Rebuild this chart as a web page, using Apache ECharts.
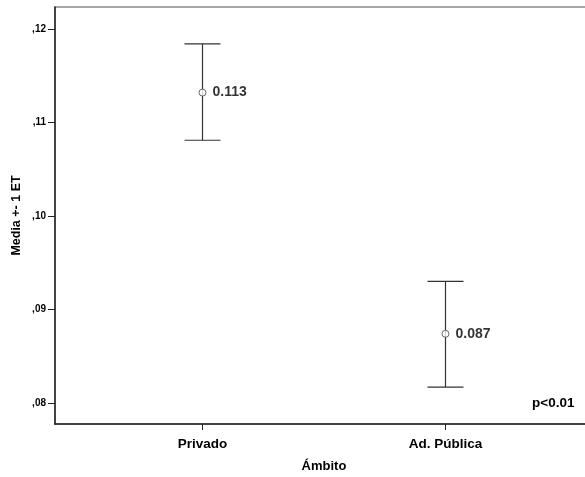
<!DOCTYPE html>
<html><head><meta charset="utf-8">
<script src="https://cdn.jsdelivr.net/npm/echarts@6/dist/echarts.min.js"></script>
<style>html,body{margin:0;padding:0;background:#fff}#c{width:585px;height:477px}</style>
</head><body><div id="c"></div>
<script>
const categories = ['Privado', 'Ad. Pública'];
const means = [0.1132, 0.0874];
const upper = [0.1184, 0.0930];
const lower = [0.1081, 0.0817];
const meanLabels = ['0.113', '0.087'];
const yTicks = [0.08, 0.09, 0.10, 0.11, 0.12];
const yTickLabels = [',08', ',09', ',10', ',11', ',12'];

const font = '"Liberation Sans", Arial, sans-serif';
const chart = echarts.init(document.getElementById('c'), null, {renderer: 'canvas'});

const barData = categories.map((c, i) => [i + 1, lower[i], upper[i]]);
const pointData = categories.map((c, i) => [i + 1, means[i], meanLabels[i]]);

chart.setOption({
  animation: false,
  grid: {left: 55, width: 538, top: 7, bottom: 53, containLabel: false, outerBoundsMode: 'none',
    show: true, borderColor: '#8a8a8a', borderWidth: 1.5, backgroundColor: 'transparent'},
  xAxis: {
    type: 'value', min: 0.393, max: 2.607,
    name: 'Ámbito', nameLocation: 'middle', nameGap: 36, nameMoveOverlap: false,
    nameTextStyle: {fontFamily: font, fontWeight: 'bold', fontSize: 13, color: '#000'},
    splitLine: {show: false},
    axisLine: {show: true, lineStyle: {color: '#222', width: 1.5}},
    axisTick: {show: true, length: 6, customValues: [1, 2], lineStyle: {color: '#222'}},
    axisLabel: {customValues: [1, 2], margin: 13, fontFamily: font, fontWeight: 'bold', fontSize: 13.5, color: '#000',
      formatter: v => categories[Math.round(v) - 1] || ''}
  },
  yAxis: {
    type: 'value', min: 0.077754, max: 0.122353,
    name: 'Media +- 1 ET', nameLocation: 'middle', nameGap: 32, nameRotate: 90, nameMoveOverlap: false,
    nameTextStyle: {fontFamily: font, fontWeight: 'bold', fontSize: 12.5, color: '#000'},
    splitLine: {show: false},
    axisLine: {show: true, lineStyle: {color: '#222', width: 1.5}},
    axisTick: {show: true, length: 7, customValues: yTicks, lineStyle: {color: '#222'}},
    axisLabel: {customValues: yTicks, margin: 9, fontFamily: font, fontWeight: 'bold', fontSize: 10, color: '#000',
      formatter: v => { const i = yTicks.findIndex(t => Math.abs(t - v) < 1e-6); return i >= 0 ? yTickLabels[i] : ''; }}
  },
  title: {
    text: 'p<0.01', left: 532, top: 396, padding: 0,
    textStyle: {fontFamily: font, fontWeight: 'bold', fontSize: 13.5, color: '#000'}
  },
  series: [
    {
      type: 'custom',
      data: barData,
      renderItem: function (params, api) {
        const x = api.value(0);
        const lo = api.coord([x, api.value(1)]);
        const hi = api.coord([x, api.value(2)]);
        const hw = 18;
        const style = {stroke: '#333', lineWidth: 1.2};
        return {
          type: 'group',
          children: [
            {type: 'line', shape: {x1: lo[0], y1: lo[1], x2: hi[0], y2: hi[1]}, style: style},
            {type: 'line', shape: {x1: lo[0] - hw, y1: lo[1], x2: lo[0] + hw, y2: lo[1]}, style: style},
            {type: 'line', shape: {x1: hi[0] - hw, y1: hi[1], x2: hi[0] + hw, y2: hi[1]}, style: style}
          ]
        };
      },
      z: 2
    },
    {
      type: 'scatter',
      data: pointData,
      symbol: 'circle', symbolSize: 7,
      itemStyle: {color: '#fff', borderColor: '#444', borderWidth: 1},
      label: {show: true, position: 'right', distance: 6, formatter: p => p.data[2],
        fontFamily: font, fontWeight: 'bold', fontSize: 14, color: '#000'},
      emphasis: {disabled: true},
      z: 3
    }
  ]
});
</script></body></html>
